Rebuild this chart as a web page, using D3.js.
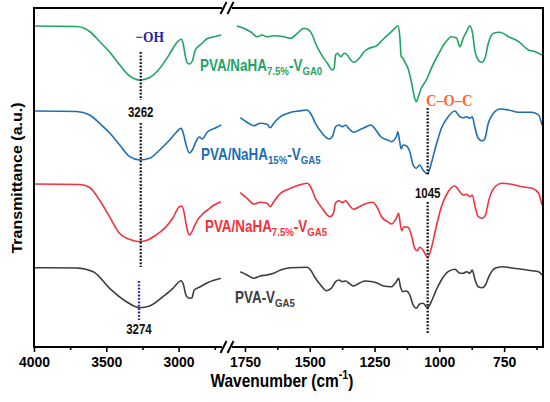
<!DOCTYPE html>
<html>
<head>
<meta charset="utf-8">
<script src="https://cdn.jsdelivr.net/npm/d3@7"></script>
<style>
  body { margin: 0; background: #fff; }
</style>
</head>
<body>
<div id="chart"></div>
<script>

// FTIR spectra, [wavenumber (cm-1), transmittance (a.u., curves stacked)]
const specGA0_75 = [
  [4000,321],[3705,320.5],[3615,315.5],[3546,305.5],[3477,295],[3407,282],[3338,271],[3269,267],[3200,269.5],
  [3131,278.5],[3062,293],[3020,303],[2982,307.7],[2968,303],[2955,292],[2940,284],[2925,283],[2905,286],
  [2885,297],[2860,301],[2836,304],[2801,308.5],[2746,310.5],[2705,312],
  [1804,321.3],[1781,321],[1755,318.7],[1729,315.3],[1703,310.3],[1684,312],[1665,310.3],[1639,311.3],[1600,310.3],
  [1574,308.7],[1548,313.7],[1522,318.7],[1503,317],[1490,312],[1478,303.7],[1458,293.7],[1432,283.7],[1413,277],
  [1406,278.7],[1400,292],[1393,293.7],[1380,290.3],[1367,293.7],[1355,292],[1342,287],[1329,284.7],[1309,288.7],
  [1290,295.3],[1271,298.7],[1251,300.3],[1238,302],[1226,305.3],[1206,310.3],[1192,313.7],[1172,318.7],[1160,321.3],
  [1153,312],[1147,290.3],[1140,288.7],[1134,285.3],[1121,278.7],[1108,265.3],[1095,248.7],[1089,245.3],[1083,248.7],
  [1070,258.7],[1050,267],[1031,278.7],[1005,292],[979,303.7],[953,310.3],[933,308.7],[921,300.3],[908,308.7],
  [895,315.3],[882,321.3],[873,315.3],[862,295.3],[850,287],[837,284.7],[824,288.7],[811,303.7],[791,313.7],
  [766,314.7],[733,310.3],[694,305.3],[656,297],[630,295.3],[604,292]
];

const specGA5_15 = [
  [4000,236],[3705,235.5],[3615,232],[3546,223.7],[3477,214],[3407,202],[3338,190.3],[3269,187],[3200,188.7],
  [3131,197],[3062,207],[3020,214],[2982,218.7],[2968,214],[2948,202],[2925,194],[2905,197],[2878,206],
  [2857,210],[2836,208],[2801,215],[2746,219],[2705,222],
  [1804,232],[1768,229.3],[1742,224.7],[1716,221.3],[1691,223.7],[1665,222.7],[1652,219.3],[1639,223.7],[1613,230.3],
  [1574,234.7],[1542,236],[1510,237],[1497,233.7],[1478,223.7],[1452,213.7],[1426,208],[1413,210.3],[1400,220.3],
  [1387,222],[1374,220.3],[1361,222],[1348,218],[1329,214.7],[1309,217],[1290,219.3],[1264,222],[1245,217],
  [1226,210.3],[1200,207],[1185,205.3],[1166,210.3],[1160,215.3],[1153,205.3],[1147,198],[1140,202],[1128,201.3],
  [1114,195.3],[1101,182],[1089,178.7],[1076,182],[1063,177],[1050,173.7],[1044,173.7],[1031,183.7],[1012,202],
  [992,218.7],[966,230.3],[940,236],[921,230.3],[908,229.3],[895,230.3],[882,228.7],[873,230.3],[862,218.7],
  [850,208.7],[835,206],[824,208.7],[811,223.7],[791,233.7],[766,238],[733,237],[694,234.7],[643,234.7],
  [617,232],[604,222]
];

const specGA5_75 = [
  [4000,163],[3684,162.5],[3615,159.5],[3547,147],[3478,130.3],[3409,113.7],[3340,107.7],[3271,105.3],[3214,107],
  [3156,112],[3087,120.3],[3041,128.7],[2995,140.3],[2977,141],[2961,133.7],[2945,120.3],[2926,112],[2914,113.7],
  [2892,120.3],[2862,128.7],[2846,131],[2830,133.7],[2800,137],[2754,142],[2708,145.3],
  [1804,157],[1768,154.3],[1742,148.7],[1716,143],[1691,144.7],[1665,143.7],[1652,140.3],[1639,145.3],[1613,153.7],
  [1574,158.7],[1542,162],[1510,163.7],[1497,160.3],[1478,148.7],[1452,138.7],[1422,130.3],[1409,133.7],[1400,144.3],
  [1387,146.3],[1374,144.3],[1361,146.3],[1348,142],[1331,137.7],[1309,140.3],[1290,142.7],[1258,144.7],[1241,140.3],
  [1223,130.3],[1200,125.3],[1185,123],[1166,128.7],[1157,133.7],[1150,122],[1145,116.3],[1137,120.3],[1121,119.7],
  [1108,112],[1095,98.7],[1085,96.3],[1076,99.7],[1063,97],[1050,91],[1044,89.7],[1031,98.7],[1012,120.3],
  [992,140.3],[966,155.3],[940,161],[921,155.3],[908,152],[895,152.7],[882,150.3],[873,152],[862,140.3],
  [850,130.3],[835,128.7],[822,132],[809,147],[785,160.3],[759,163.7],[727,163],[682,160.3],[643,158.7],
  [617,153.7],[604,142]
];

const specPVA_GA5 = [
  [4000,79.3],[3705,79],[3590,75.3],[3477,58.7],[3361,45.3],[3269,39.3],[3200,41],[3108,50.3],[3039,58.7],
  [2982,66.3],[2968,63],[2949,52],[2926,48.7],[2909,49],[2892,57],[2857,59.7],[2800,64.3],[2708,68.7],
  [1804,77],[1768,75.3],[1742,72],[1716,68.7],[1691,71],[1665,72],[1639,73.7],[1613,77],[1574,79.3],
  [1510,79.7],[1497,77],[1478,68.7],[1458,62],[1435,56.3],[1417,58.7],[1400,65.3],[1387,67],[1374,65.3],
  [1361,66],[1348,63.7],[1331,61],[1309,63.7],[1288,66],[1258,65.3],[1238,63.7],[1219,61.3],[1185,60.3],
  [1166,65.3],[1157,68.7],[1150,60.3],[1140,55.3],[1128,56],[1114,52],[1101,42],[1089,38.7],[1076,43],
  [1063,43.7],[1050,40.3],[1044,39.7],[1031,45.3],[1012,57],[992,67],[966,75.3],[940,77.7],[921,73.7],
  [908,73.7],[895,75.3],[882,73.7],[873,77],[862,67],[850,60.3],[835,59.3],[822,62],[809,70.3],
  [785,78.7],[759,80.3],[727,79.3],[682,77.7],[643,76.3],[617,75.3],[604,72]
];

// legend texts: [text, isSubscript]
const labelGA0_75 = [['PVA/NaHA', false], ['7.5%', true], ['-V', false], ['GA0', true]];
const labelGA5_15 = [['PVA/NaHA', false], ['15%', true], ['-V', false], ['GA5', true]];
const labelGA5_75 = [['PVA/NaHA', false], ['7.5%', true], ['-V', false], ['GA5', true]];
const labelPVA_GA5 = [['PVA-V', false], ['GA5', true]];

// axis ranges and ticks (the axis is broken between 2700 and 1800)
const domainLeft = [4000, 2700];
const domainRight = [1800, 600];
const ticksLeft = [4000, 3500, 3000];
const minorLeft = [3750, 3250, 2750];
const ticksRight = [1750, 1500, 1250, 1000, 750];
const minorRight = [1625, 1375, 1125, 875, 625];

// marked bands
const peakOH = [3262, 3274];
const peakCOC = [1045];


const W = 550, H = 402;
const plot = { left: 34, right: 543, top: 8, bottom: 347, split: 222, gap: 10 };
const FONT = '"Liberation Sans", Arial, Helvetica, sans-serif';
const SERIF = '"Liberation Serif", "Times New Roman", serif';

const svg = d3.select('#chart')
  .append('svg')
  .attr('width', W)
  .attr('height', H);

const xLeft = d3.scaleLinear().domain(domainLeft).range([plot.left, plot.split]);
const xRight = d3.scaleLinear().domain(domainRight).range([plot.split + plot.gap, plot.right]);
const y = d3.scaleLinear().domain([0, 339]).range([plot.bottom, plot.top]);

// SPECTRA
const series = [
  { data: specGA0_75, color: '#1fa463', label: labelGA0_75, at: [2852, 276] },
  { data: specGA5_15, color: '#1c6fb2', label: labelGA5_15, at: [2845, 187] },
  { data: specGA5_75, color: '#f4313d', label: labelGA5_75, at: [2818, 115.5] },
  { data: specPVA_GA5, color: '#3d3d3d', label: labelPVA_GA5, at: [2610, 43.7] }
];

const lineLeft = d3.line().x(d => xLeft(d[0])).y(d => y(d[1])).curve(d3.curveMonotoneX);
const lineRight = d3.line().x(d => xRight(d[0])).y(d => y(d[1])).curve(d3.curveMonotoneX);

const groupLines = svg.append('g');
series.forEach(s => {
  groupLines.append('path')
    .attr('d', lineLeft(s.data.filter(d => d[0] >= domainLeft[1])))
    .attr('fill', 'none')
    .attr('stroke', s.color)
    .attr('stroke-width', 1.6)
    .attr('stroke-linejoin', 'round');
  groupLines.append('path')
    .attr('d', lineRight(s.data.filter(d => d[0] <= domainRight[0])))
    .attr('fill', 'none')
    .attr('stroke', s.color)
    .attr('stroke-width', 1.6)
    .attr('stroke-linejoin', 'round');
});

// curve labels, the picture is a little squeezed horizontally
series.forEach(s => {
  const text = svg.append('text')
    .attr('transform', `translate(${xLeft(s.at[0])} ${y(s.at[1])}) scale(0.84 1)`)
    .attr('font-family', FONT)
    .attr('font-weight', 'bold')
    .attr('font-size', 16)
    .attr('fill', s.color);
  let shifted = false;
  s.label.forEach(([t, sub]) => {
    const ts = text.append('tspan').text(t);
    if (sub && !shifted) { ts.attr('dy', 4).attr('font-size', 11.5); shifted = true; }
    else if (sub) ts.attr('font-size', 11.5);
    else if (shifted) { ts.attr('dy', -4); shifted = false; }
  });
});

// DOTTED MARKERS
const dotted = (x, v0, v1, color) => svg.append('line')
  .attr('x1', x).attr('x2', x)
  .attr('y1', y(v0)).attr('y2', y(v1))
  .attr('stroke', color)
  .attr('stroke-width', 2.3)
  .attr('stroke-dasharray', '1.8 1.6');

dotted(xLeft(peakOH[0]), 295, 247, '#111');
dotted(xLeft(peakOH[0]), 224, 80, '#111');
dotted(xLeft(peakOH[1]), 66, 27, '#2323a6');
dotted(xRight(peakCOC[0]), 239, 171, '#111');
dotted(xRight(peakCOC[0]), 145, 14, '#111');

const note = (x, v, txt, opts) => svg.append('text')
  .attr('transform', `translate(${x} ${y(v)}) scale(${opts.sx} 1)`)
  .attr('text-anchor', 'middle')
  .attr('font-family', opts.family)
  .attr('font-weight', 'bold')
  .attr('font-size', opts.size)
  .attr('fill', opts.color)
  .text(txt);

note(xLeft(peakOH[0]), 230.3, '3262', { sx: 0.82, family: FONT, size: 14, color: '#111' });
note(xLeft(peakOH[1]), 13.5, '3274', { sx: 0.82, family: FONT, size: 14, color: '#111' });
note(xRight(peakCOC[0]), 148.7, '1045', { sx: 0.82, family: FONT, size: 14, color: '#111' });
note(xLeft(3200), 305, '\u2212OH', { sx: 0.9, family: SERIF, size: 15, color: '#1f1fa3' });
note(xRight(962), 241, 'C\u2013O\u2013C', { sx: 0.9, family: SERIF, size: 16, color: '#ff6633' });

// AXES
const axisStyle = g => {
  g.select('.domain').remove();
  g.selectAll('.tick line').attr('stroke', '#000').attr('stroke-width', 1.6);
  g.selectAll('.tick text')
    .attr('font-family', FONT)
    .attr('font-weight', 'bold')
    .attr('font-size', 15.5)
    .attr('fill', '#000')
    .attr('transform', 'scale(0.9 1)');
};

const fmt = d3.format('d');
const gx = svg.append('g').attr('transform', `translate(0 ${plot.bottom})`);
gx.append('g').call(d3.axisBottom(xLeft).tickValues(ticksLeft).tickFormat(fmt).tickSize(5).tickPadding(4).tickSizeOuter(0)).call(axisStyle);
gx.append('g').call(d3.axisBottom(xLeft).tickValues(minorLeft).tickSize(3).tickFormat('').tickSizeOuter(0)).call(axisStyle);
gx.append('g').call(d3.axisBottom(xRight).tickValues(ticksRight).tickFormat(fmt).tickSize(5).tickPadding(4).tickSizeOuter(0)).call(axisStyle);
gx.append('g').call(d3.axisBottom(xRight).tickValues(minorRight).tickSize(3).tickFormat('').tickSizeOuter(0)).call(axisStyle);

// frame with the break marks on top and bottom
const frame = svg.append('g')
  .attr('stroke', '#000')
  .attr('stroke-width', 2)
  .attr('fill', 'none');
const bx = plot.split + plot.gap / 2;
[plot.top, plot.bottom].forEach(yy => {
  frame.append('line').attr('x1', plot.left - 1).attr('x2', bx - 5).attr('y1', yy).attr('y2', yy);
  frame.append('line').attr('x1', bx + 5).attr('x2', plot.right + 1).attr('y1', yy).attr('y2', yy);
  [-3.5, 3.5].forEach(o => {
    frame.append('line')
      .attr('x1', bx + o - 3).attr('y1', yy + 6)
      .attr('x2', bx + o + 3).attr('y2', yy - 6);
  });
});
frame.append('line').attr('x1', plot.left).attr('x2', plot.left).attr('y1', plot.top).attr('y2', plot.bottom);
frame.append('line').attr('x1', plot.right).attr('x2', plot.right).attr('y1', plot.top).attr('y2', plot.bottom);

// axis titles
const xTitle = svg.append('text')
  .attr('transform', `translate(282 387) scale(0.86 1)`)
  .attr('text-anchor', 'middle')
  .attr('font-family', FONT)
  .attr('font-weight', 'bold')
  .attr('font-size', 18)
  .attr('fill', '#000');
xTitle.append('tspan').text('Wavenumber (cm');
xTitle.append('tspan').text('-1').attr('font-size', 12.5).attr('dy', -8);
xTitle.append('tspan').text(')').attr('dy', 8);

svg.append('text')
  .attr('transform', `translate(22 178) scale(0.88 1) rotate(-90)`)
  .attr('text-anchor', 'middle')
  .attr('font-family', FONT)
  .attr('font-weight', 'bold')
  .attr('font-size', 16)
  .attr('fill', '#000')
  .text('Transmittance (a.u.)');

</script>
</body>
</html>
